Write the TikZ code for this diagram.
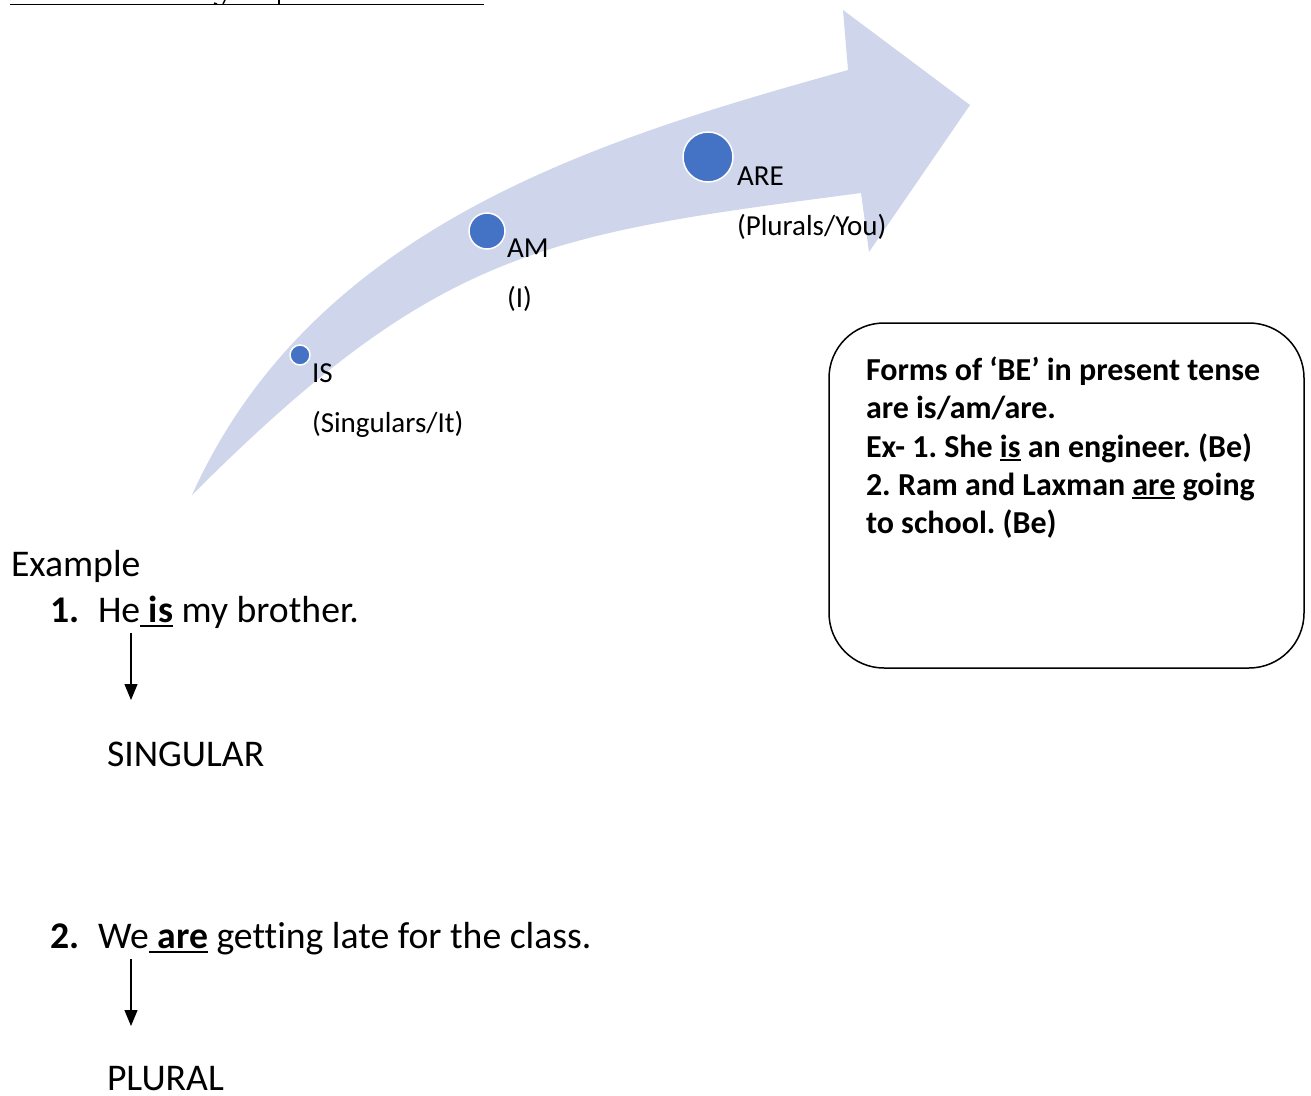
\documentclass[tikz,border=0pt]{standalone}
\usepackage{fontspec}
\setmainfont{Carlito}[Ligatures=CommonOff]
\usetikzlibrary{arrows.meta}

\definecolor{bandfill}{HTML}{CFD5EA}
\definecolor{dotblue}{HTML}{4472C4}

% underline that sits just below the baseline
\newcommand{\ulword}[1]{\sbox0{#1}\rlap{\rule[-0.14em]{\wd0}{0.07em}}\usebox0}

\tikzset{
  txt/.style={anchor=base west, inner sep=0pt, outer sep=0pt},
  steplabel/.style={txt, font=\fontsize{29}{34}\selectfont},
  bodytext/.style={txt, font=\fontsize{37.7}{44}\selectfont},
  boxtext/.style={txt, font=\bfseries\fontsize{32}{38}\selectfont},
  stepdot/.style={circle, fill=dotblue, draw=white, line width=1.5pt, inner sep=0pt},
  downarrow/.style={-{Triangle[width=13pt,length=16pt]}, line width=1.2pt},
  notebox/.style={draw, line width=1.5pt, rounded corners=55pt, inner sep=0pt,
                  minimum width=475pt, minimum height=345pt}
}

\begin{document}
\frenchspacing
\begin{tikzpicture}[x=1pt, y=-1pt]
\useasboundingbox (0,0) rectangle (1311,1095);

% heading rule along the top edge
\draw[line width=1.5pt] (10,4.5) -- (484,4.5);
\draw[line width=1.8pt] (279,0) -- (279,4);
\draw[line width=1.5pt] (225,0) -- (223,4);
\draw[line width=1.5pt] (214,3) -- (217,4);

% curved progress arrow
\fill[bandfill] (192,495)
  .. controls (315,222) and (607,137.5) .. (848,70)
  -- (843,10) -- (970,105) -- (869,252) -- (861,193)
  .. controls (544,234.6) and (439.5,247.5) .. (192,495)
  -- cycle;

% stages on the arrow
\node[stepdot, minimum size=20pt] (dIS)  at (300,355) {};
\node[stepdot, minimum size=36pt] (dAM)  at (487,231) {};
\node[stepdot, minimum size=50pt] (dARE) at (708,157) {};

\node[steplabel] (lIS)   at (312,382) {IS};
\node[steplabel] (lISb)  at (312,432) {(Singulars/It)};
\node[steplabel] (lAM)   at (507,257) {AM};
\node[steplabel] (lAMb)  at (507,307) {(I)};
\node[steplabel] (lARE)  at (737,185) {ARE};
\node[steplabel] (lAREb) at (737,235) {(Plurals/You)};

% note box
\node[notebox] (note) at (1066.5,495.5) {};
\node[boxtext] (n1) at (866,380) {Forms of ‘BE’ in present tense};
\node[boxtext] (n2) at (866,418) {are is/am/are.};
\node[boxtext] (n3) at (866,457) {Ex- 1. She \ulword{is} an engineer. (Be)};
\node[boxtext] (n4) at (866,495) {2. Ram and Laxman \ulword{are} going};
\node[boxtext] (n5) at (866,533) {to school. (Be)};

% examples
\node[bodytext] (ex) at (11,576) {Example};
\node[bodytext] (e1n) at (50,622) {\textbf{1.}};
\node[bodytext] (e1) at (98,622) {He\ulword{\ \textbf{is}} my brother.};
\coordinate (e1from) at (131,633);
\coordinate (e1to) at (131,700);
\draw[downarrow] (e1from) -- (e1to);
\node[bodytext] (sing) at (107,766) {SINGULAR};

\node[bodytext] (e2n) at (50,948) {\textbf{2.}};
\node[bodytext] (e2) at (98,948) {We\ulword{\ \textbf{are}} getting late for the class.};
\coordinate (e2from) at (131,959);
\coordinate (e2to) at (131,1026);
\draw[downarrow] (e2from) -- (e2to);
\node[bodytext] (plur) at (107,1090) {PLURAL};
\end{tikzpicture}
\end{document}
